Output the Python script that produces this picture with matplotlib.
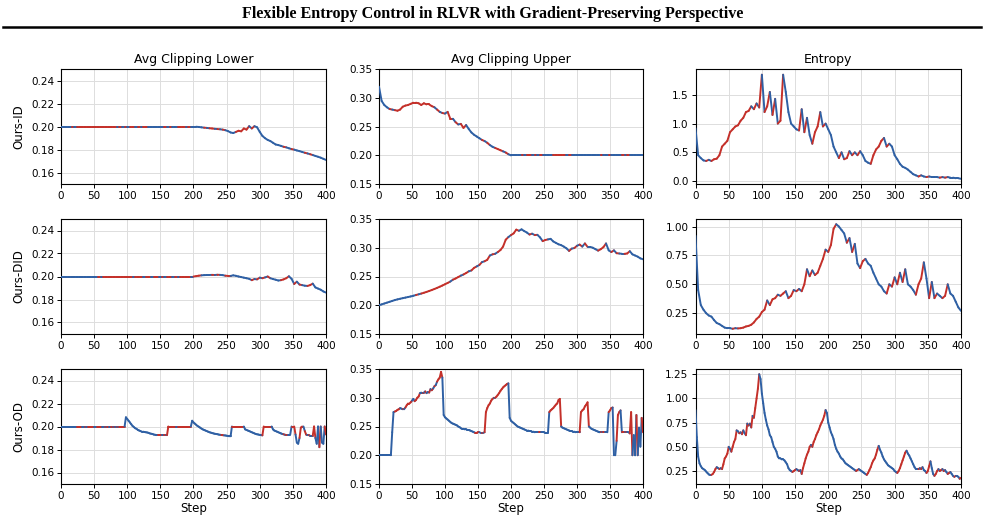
import numpy as np
import matplotlib
matplotlib.use("Agg")
import matplotlib.pyplot as plt
from matplotlib.collections import LineCollection
from matplotlib.lines import Line2D

# ---------------- data ----------------
title = "Flexible Entropy Control in RLVR with Gradient-Preserving Perspective"
col_titles = ["Avg Clipping Lower", "Avg Clipping Upper", "Entropy"]
row_labels = ["Ours-ID", "Ours-DID", "Ours-OD"]

# Row 1 / Row 2 share a step grid of 4, row 3 uses a grid of 2
steps_r1 = np.arange(0, 401, 4)
steps_r2 = np.arange(0, 401, 4)
steps_r3 = np.arange(0, 401, 2)

id_lower = [
    0.200, 0.200, 0.200, 0.200, 0.200, 0.200, 0.200, 0.200, 0.200, 0.200,
    0.200, 0.200, 0.200, 0.200, 0.200, 0.200, 0.200, 0.200, 0.200, 0.200,
    0.200, 0.200, 0.200, 0.200, 0.200, 0.200, 0.200, 0.200, 0.200, 0.200,
    0.200, 0.200, 0.200, 0.200, 0.200, 0.200, 0.200, 0.200, 0.200, 0.200,
    0.200, 0.200, 0.200, 0.200, 0.200, 0.200, 0.200, 0.200, 0.200, 0.200,
    0.200, 0.200,
    0.1998, 0.1995, 0.1992, 0.1990, 0.1987, 0.1985, 0.1982, 0.1980, 0.1978, 0.1975,
    0.1970, 0.1962, 0.1950, 0.1945, 0.1955, 0.1965, 0.1960, 0.1985, 0.1975, 0.2005,
    0.1985, 0.2005, 0.1995, 0.1955, 0.1920, 0.1900, 0.1885, 0.1875, 0.1860, 0.1845,
    0.1840, 0.1833, 0.1825, 0.1820, 0.1812, 0.1805, 0.1800, 0.1793, 0.1787, 0.1780,
    0.1773, 0.1767, 0.1760, 0.1753, 0.1745, 0.1738, 0.1730, 0.1720, 0.1710,
]
id_upper = [
    0.320, 0.295, 0.288, 0.284, 0.281, 0.280, 0.279, 0.278, 0.280, 0.285,
    0.287, 0.288, 0.290, 0.292, 0.292, 0.291, 0.288, 0.291, 0.289, 0.289,
    0.286, 0.284, 0.280, 0.276, 0.274, 0.273, 0.276, 0.264, 0.264, 0.258,
    0.254, 0.255, 0.248, 0.253, 0.246, 0.240, 0.236, 0.233, 0.230, 0.227,
    0.225, 0.222, 0.218, 0.215, 0.213, 0.211, 0.209, 0.207, 0.205, 0.202,
    0.200,
    0.200, 0.200, 0.200, 0.200, 0.200, 0.200, 0.200, 0.200, 0.200, 0.200,
    0.200, 0.200, 0.200, 0.200, 0.200, 0.200, 0.200, 0.200, 0.200, 0.200,
    0.200, 0.200, 0.200, 0.200, 0.200, 0.200, 0.200, 0.200, 0.200, 0.200,
    0.200, 0.200, 0.200, 0.200, 0.200, 0.200, 0.200, 0.200, 0.200, 0.200,
    0.200, 0.200, 0.200, 0.200, 0.200, 0.200, 0.200, 0.200, 0.200, 0.200,
]
id_entropy = [
    0.92, 0.45, 0.40, 0.36, 0.35, 0.37, 0.35, 0.38, 0.39, 0.45,
    0.60, 0.65, 0.70, 0.85, 0.90, 0.95, 0.97, 1.05, 1.10, 1.20,
    1.22, 1.30, 1.25, 1.35, 1.28, 1.85, 1.20, 1.30, 1.55, 1.15,
    1.43, 1.00, 1.05, 1.85, 1.55, 1.20, 1.00, 0.95, 0.90, 0.88,
    1.25, 0.85, 1.10, 0.80, 0.65, 0.85, 0.95, 1.20, 0.95, 1.00,
    0.90, 0.80, 0.60, 0.50, 0.40, 0.50, 0.38, 0.40, 0.52, 0.45,
    0.50, 0.45, 0.52, 0.45, 0.35, 0.32, 0.30, 0.45, 0.55, 0.60,
    0.70, 0.75, 0.60, 0.65, 0.60, 0.45, 0.38, 0.30, 0.25, 0.23,
    0.20, 0.16, 0.12, 0.10, 0.08, 0.10, 0.08, 0.07, 0.08, 0.07,
    0.07, 0.07, 0.06, 0.07, 0.06, 0.07, 0.06, 0.06, 0.05, 0.05,
    0.04,
]

did_lower = [
    0.200, 0.200, 0.200, 0.200, 0.200, 0.200, 0.200, 0.200, 0.200, 0.200,
    0.200, 0.200, 0.200, 0.200, 0.200, 0.200, 0.200, 0.200, 0.200, 0.200,
    0.200, 0.200, 0.200, 0.200, 0.200, 0.200, 0.200, 0.200, 0.200, 0.200,
    0.200, 0.200, 0.200, 0.200, 0.200, 0.200, 0.200, 0.200, 0.200, 0.200,
    0.200, 0.200, 0.200, 0.200, 0.200, 0.200, 0.200, 0.200, 0.200, 0.200,
    0.2000, 0.2003, 0.2007, 0.2010, 0.2012, 0.2013, 0.2013, 0.2014, 0.2013, 0.2015,
    0.2014, 0.2012, 0.2007, 0.2005, 0.2005, 0.2010, 0.2006, 0.2000, 0.1995, 0.1990,
    0.1985, 0.1980, 0.1968, 0.1978, 0.1975, 0.1990, 0.1985, 0.1992, 0.2000, 0.1985,
    0.1978, 0.1972, 0.1965, 0.1968, 0.1975, 0.1985, 0.2002, 0.1980, 0.1935, 0.1955,
    0.1930, 0.1925, 0.1920, 0.1918, 0.1925, 0.1938, 0.1905, 0.1895, 0.1885, 0.1870,
    0.1860,
]
did_upper = [
    0.2000, 0.2015, 0.2030, 0.2045, 0.2060, 0.2075, 0.2090, 0.2102, 0.2113, 0.2123,
    0.2133, 0.2143, 0.2153, 0.2165, 0.2178, 0.2190, 0.2203, 0.2217, 0.2232, 0.2248,
    0.2265, 0.2283, 0.2302, 0.2322, 0.2343, 0.2365, 0.2388, 0.2412, 0.2445, 0.2465,
    0.2490, 0.2515, 0.2535, 0.2560, 0.2590, 0.2605, 0.2650, 0.2675, 0.2700, 0.2750,
    0.2765, 0.2790, 0.2865, 0.2885, 0.2895, 0.2925, 0.2960, 0.3020, 0.3140, 0.3185,
    0.3220, 0.3250, 0.3315, 0.3295, 0.3320, 0.3290, 0.3265, 0.3230, 0.3245, 0.3220,
    0.3225, 0.3180, 0.3115, 0.3135, 0.3145, 0.3155, 0.3110, 0.3085, 0.3060, 0.3045,
    0.3020, 0.2990, 0.2945, 0.2985, 0.2995, 0.3035, 0.3055, 0.3020, 0.3075, 0.3015,
    0.3015, 0.3000, 0.2975, 0.2950, 0.2975, 0.3010, 0.3075, 0.2955, 0.2925, 0.2955,
    0.2905, 0.2900, 0.2895, 0.2895, 0.2900, 0.2940, 0.2885, 0.2865, 0.2845, 0.2815,
    0.2800,
]
did_entropy = [
    0.92, 0.45, 0.32, 0.28, 0.25, 0.23, 0.22, 0.19, 0.165, 0.155,
    0.14, 0.125, 0.12, 0.12, 0.115, 0.12, 0.118, 0.12, 0.125, 0.135,
    0.14, 0.15, 0.17, 0.20, 0.22, 0.26, 0.28, 0.36, 0.32, 0.37,
    0.38, 0.41, 0.40, 0.42, 0.44, 0.38, 0.40, 0.45, 0.44, 0.46,
    0.44, 0.50, 0.63, 0.57, 0.62, 0.58, 0.60, 0.66, 0.72, 0.80,
    0.78, 0.84, 0.98, 1.02, 1.00, 0.97, 0.94, 0.86, 0.90, 0.78,
    0.85, 0.68, 0.64, 0.70, 0.72, 0.68, 0.66, 0.60, 0.55, 0.50,
    0.48, 0.44, 0.42, 0.50, 0.48, 0.56, 0.50, 0.60, 0.52, 0.63,
    0.50, 0.48, 0.45, 0.41, 0.50, 0.55, 0.69, 0.55, 0.38, 0.52,
    0.38, 0.42, 0.40, 0.38, 0.40, 0.50, 0.42, 0.40, 0.35, 0.30,
    0.27,
]

od_lower = [
    0.200, 0.200, 0.200, 0.200, 0.200, 0.200, 0.200, 0.200, 0.200, 0.200,   # 0-18
    0.200, 0.200, 0.200, 0.200, 0.200, 0.200, 0.200, 0.200, 0.200, 0.200,   # 20-38
    0.200, 0.200, 0.200, 0.200, 0.200, 0.200, 0.200, 0.200, 0.200, 0.200,   # 40-58
    0.200, 0.200, 0.200, 0.200, 0.200, 0.200, 0.200, 0.200, 0.200, 0.200,   # 60-78
    0.200, 0.200, 0.200, 0.200, 0.200, 0.200, 0.200, 0.200, 0.200, 0.2080,  # 80-98
    0.2065, 0.2050, 0.2035, 0.2020, 0.2005, 0.1995, 0.1985, 0.1980, 0.1970, 0.1965,  # 100-118
    0.1960, 0.1955, 0.1955, 0.1952, 0.1950, 0.1948, 0.1945, 0.1940, 0.1937, 0.1935,  # 120-138
    0.1930, 0.1928, 0.1925, 0.1925, 0.1925, 0.1925, 0.1925, 0.1925, 0.1925, 0.1925,  # 140-158
    0.1925, 0.2000, 0.200, 0.200, 0.200, 0.200, 0.200, 0.200, 0.200, 0.200,          # 160-178
    0.200, 0.200, 0.200, 0.200, 0.200, 0.200, 0.200, 0.200, 0.200, 0.2050,           # 180-198
    0.2035, 0.2025, 0.2015, 0.2005, 0.1998, 0.1990, 0.1982, 0.1975, 0.1970, 0.1965,  # 200-218
    0.1960, 0.1955, 0.1950, 0.1947, 0.1943, 0.1940, 0.1937, 0.1935, 0.1933, 0.1930,  # 220-238
    0.1928, 0.1926, 0.1925, 0.1923, 0.1922, 0.1920, 0.1918, 0.1915, 0.1915, 0.2000,  # 240-258
    0.200, 0.200, 0.200, 0.200, 0.200, 0.200, 0.200, 0.200, 0.200, 0.1975,           # 260-278
    0.1970, 0.1965, 0.1960, 0.1955, 0.1950, 0.1945, 0.1940, 0.1935, 0.1932, 0.1930,  # 280-298
    0.1927, 0.1925, 0.1923, 0.2000, 0.200, 0.200, 0.200, 0.200, 0.200, 0.200,        # 300-318
    0.1975, 0.1965, 0.1960, 0.1955, 0.1950, 0.1945, 0.1940, 0.1935, 0.1932, 0.1930,  # 320-338
    0.1930, 0.1930, 0.1930, 0.1930, 0.2000, 0.2000, 0.2000, 0.1930, 0.1860, 0.1850,  # 340-358
    0.1900, 0.1990, 0.2000, 0.2000, 0.1960, 0.1930, 0.1925, 0.1925, 0.1920, 0.1920,  # 360-378
    0.1920, 0.2000, 0.1900, 0.1850, 0.2000, 0.1820, 0.2000, 0.1860, 0.1850, 0.2000,  # 380-398
    0.1930,                                                                          # 400
]
od_upper = [
    0.200, 0.200, 0.200, 0.200, 0.200, 0.200, 0.200, 0.200, 0.200, 0.200,   # 0-18
    0.240, 0.275, 0.276, 0.277, 0.279, 0.280, 0.282, 0.281, 0.280, 0.280,   # 20-38
    0.283, 0.287, 0.290, 0.290, 0.292, 0.295, 0.298, 0.294, 0.296, 0.300,   # 40-58
    0.302, 0.308, 0.309, 0.309, 0.309, 0.311, 0.308, 0.310, 0.309, 0.315,   # 60-78
    0.313, 0.316, 0.320, 0.322, 0.328, 0.332, 0.335, 0.345, 0.335, 0.270,   # 80-98
    0.266, 0.264, 0.262, 0.260, 0.258, 0.256, 0.255, 0.254, 0.253, 0.252,   # 100-118
    0.250, 0.249, 0.247, 0.246, 0.246, 0.245, 0.245, 0.244, 0.244, 0.243,   # 120-138
    0.242, 0.241, 0.240, 0.239, 0.239, 0.240, 0.240, 0.239, 0.239, 0.239,   # 140-158
    0.240, 0.275, 0.282, 0.287, 0.290, 0.295, 0.298, 0.300, 0.300, 0.302,   # 160-178
    0.305, 0.308, 0.312, 0.315, 0.318, 0.320, 0.322, 0.324, 0.325, 0.265,   # 180-198
    0.260, 0.258, 0.256, 0.254, 0.252, 0.250, 0.249, 0.248, 0.247, 0.246,   # 200-218
    0.245, 0.244, 0.243, 0.243, 0.242, 0.242, 0.241, 0.241, 0.240, 0.240,   # 220-238
    0.240, 0.240, 0.240, 0.240, 0.240, 0.240, 0.239, 0.239, 0.239, 0.275,   # 240-258
    0.278, 0.280, 0.282, 0.285, 0.288, 0.290, 0.296, 0.298, 0.250, 0.248,   # 260-278
    0.247, 0.246, 0.245, 0.244, 0.243, 0.242, 0.242, 0.241, 0.241, 0.240,   # 280-298
    0.240, 0.240, 0.240, 0.275, 0.278, 0.280, 0.285, 0.288, 0.292, 0.250,   # 300-318
    0.248, 0.246, 0.245, 0.244, 0.243, 0.242, 0.241, 0.240, 0.240, 0.240,   # 320-338
    0.240, 0.240, 0.240, 0.240, 0.275, 0.278, 0.282, 0.283, 0.200, 0.200,   # 340-358
    0.225, 0.270, 0.275, 0.278, 0.240, 0.240, 0.240, 0.240, 0.240, 0.240,   # 360-378
    0.238, 0.275, 0.200, 0.235, 0.200, 0.270, 0.200, 0.248, 0.215, 0.265,   # 380-398
    0.240,                                                                  # 400
]
od_entropy = [
    0.88, 0.60, 0.40, 0.33, 0.30, 0.28, 0.27, 0.26, 0.245, 0.23,     # 0-18
    0.215, 0.21, 0.21, 0.22, 0.24, 0.27, 0.29, 0.28, 0.27, 0.28,     # 20-38
    0.27, 0.32, 0.38, 0.40, 0.43, 0.50, 0.48, 0.45, 0.50, 0.55,      # 40-58
    0.58, 0.67, 0.66, 0.64, 0.65, 0.63, 0.67, 0.64, 0.62, 0.74,      # 60-78
    0.72, 0.74, 0.70, 0.82, 0.80, 0.90, 1.00, 1.10, 1.25, 1.20,      # 80-98
    1.05, 0.95, 0.85, 0.78, 0.72, 0.68, 0.62, 0.60, 0.55, 0.50,      # 100-118
    0.48, 0.45, 0.40, 0.38, 0.38, 0.37, 0.37, 0.36, 0.34, 0.32,      # 120-138
    0.28, 0.26, 0.25, 0.24, 0.25, 0.26, 0.27, 0.26, 0.25, 0.26,      # 140-158
    0.22, 0.28, 0.33, 0.38, 0.42, 0.45, 0.50, 0.52, 0.50, 0.55,      # 160-178
    0.58, 0.62, 0.65, 0.68, 0.72, 0.75, 0.78, 0.82, 0.88, 0.85,      # 180-198
    0.75, 0.70, 0.65, 0.62, 0.58, 0.52, 0.48, 0.45, 0.43, 0.40,      # 200-218
    0.38, 0.37, 0.35, 0.33, 0.32, 0.31, 0.30, 0.29, 0.28, 0.27,      # 220-238
    0.26, 0.25, 0.26, 0.27, 0.26, 0.25, 0.24, 0.23, 0.22, 0.21,      # 240-258
    0.23, 0.26, 0.29, 0.33, 0.36, 0.38, 0.42, 0.47, 0.51, 0.47,      # 260-278
    0.44, 0.40, 0.37, 0.35, 0.33, 0.31, 0.30, 0.29, 0.28, 0.27,      # 280-298
    0.25, 0.24, 0.23, 0.25, 0.28, 0.32, 0.36, 0.40, 0.44, 0.46,      # 300-318
    0.43, 0.41, 0.38, 0.35, 0.32, 0.29, 0.27, 0.27, 0.27, 0.28,      # 320-338
    0.27, 0.29, 0.26, 0.25, 0.23, 0.25, 0.30, 0.35, 0.28, 0.22,      # 340-358
    0.20, 0.22, 0.25, 0.27, 0.25, 0.26, 0.27, 0.25, 0.26, 0.24,      # 360-378
    0.22, 0.23, 0.24, 0.22, 0.20, 0.19, 0.20, 0.20, 0.19, 0.17,      # 380-398
    0.18,                                                            # 400
]

rows = [
    (steps_r1, [id_lower, id_upper, id_entropy]),
    (steps_r2, [did_lower, did_upper, did_entropy]),
    (steps_r3, [od_lower, od_upper, od_entropy]),
]

RED = "#c4302a"
BLUE = "#2f60a4"

# ---------------- figure ----------------
W, H = 985, 524
fig = plt.figure(figsize=(W / 100, H / 100), dpi=100)

fig.text(0.5, 1 - 14 / H, title, ha="center", va="center",
         family="Liberation Serif", weight="bold", fontsize=11.6)
fig.add_artist(Line2D([3 / W, 981 / W], [1 - 26.5 / H] * 2,
                      transform=fig.transFigure, color="black", lw=1.8))

col_lr = [(61, 326), (379, 643), (695.5, 961)]
row_tb = [(69.5, 184), (219, 334), (369, 484)]

for r, (steps, series) in enumerate(rows):
    ent = np.asarray(series[2], dtype=float)
    up = np.diff(ent) > 0
    colors = [RED if u else BLUE for u in up]
    for c, vals in enumerate(series):
        l, rr = col_lr[c]
        t, b = row_tb[r]
        ax = fig.add_axes([l / W, 1 - b / H, (rr - l) / W, (b - t) / H])
        x = np.asarray(steps, dtype=float)
        y = np.asarray(vals, dtype=float)
        pts = np.column_stack([x, y]).reshape(-1, 1, 2)
        segs = np.concatenate([pts[:-1], pts[1:]], axis=1)
        lc = LineCollection(segs, colors=colors, linewidths=1.4,
                            capstyle="round", joinstyle="round", zorder=3)
        ax.add_collection(lc)
        ax.autoscale_view()
        ax.set_xlim(0, 400)
        ax.set_xticks([0, 50, 100, 150, 200, 250, 300, 350, 400])
        if c == 0:
            ax.set_ylim(0.15, 0.25)
            ax.set_yticks([0.16, 0.18, 0.20, 0.22, 0.24])
            ax.set_ylabel(row_labels[r], fontsize=8.5)
        elif c == 1:
            ax.set_ylim(0.15, 0.35)
            ax.set_yticks([0.15, 0.20, 0.25, 0.30, 0.35])
        else:
            ax.margins(x=0, y=0.05)
            ax.autoscale_view()
            ax.set_xlim(0, 400)
            if r == 0:
                ax.set_yticks([0.0, 0.5, 1.0, 1.5])
            else:
                ax.set_yticks([0.25, 0.50, 0.75, 1.00] + ([1.25] if r == 2 else []))
        ax.yaxis.set_major_formatter(matplotlib.ticker.FormatStrFormatter(
            "%.1f" if (c == 2 and r == 0) else "%.2f"))
        ax.grid(True, color="#dddddd", lw=0.7)
        ax.set_axisbelow(True)
        ax.tick_params(labelsize=7.5, length=3, width=0.7, pad=2)
        for s in ax.spines.values():
            s.set_linewidth(0.8)
        if r == 0:
            ax.set_title(col_titles[c], fontsize=9, pad=5)
        if r == 2:
            ax.set_xlabel("Step", fontsize=8.5, labelpad=1)

fig.savefig("out.png", dpi=100)
